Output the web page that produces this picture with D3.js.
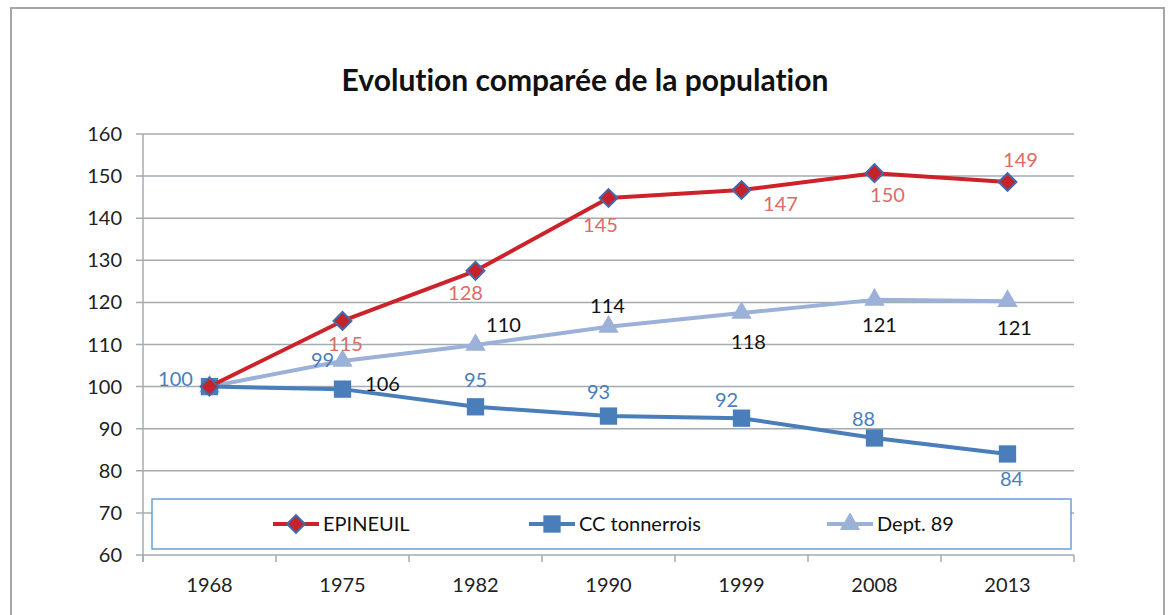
<!DOCTYPE html>
<html>
<head>
<meta charset="utf-8">
<script src="https://cdn.jsdelivr.net/npm/d3@7"></script>
<style>
  body { margin: 0; background: #fff; }
  svg { display: block; font-family: Lato, "Open Sans", sans-serif; font-variant-ligatures: none; }
</style>
</head>
<body>
<svg width="1171" height="615"></svg>
<script>
const years = ["1968", "1975", "1982", "1990", "1999", "2008", "2013"];
const epineuil = [100, 115.6, 127.5, 144.8, 146.7, 150.7, 148.6];
const ccTonnerrois = [100, 99.4, 95.2, 93, 92.5, 87.8, 84];
const dept89 = [100, 106.1, 109.9, 114.2, 117.5, 120.6, 120.3];
// data labels as printed on the chart (some sit oddly in the original)
const epineuilLabels = [null, "115", "128", "145", "147", "150", "149"];
const ccLabels = ["100", "99", "95", "93", "92", "88", "84"];
const deptLabels = [null, "106", "110", "114", "118", "121", "121"];
const yTicks = [60, 70, 80, 90, 100, 110, 120, 130, 140, 150, 160];

// label placement (pixels, relative to the point)
const epiOffsets = [[0, 0], [3, 23], [-10, 22], [-8, 27], [39, 14], [13, 22], [13, -22]];
const ccOffsets = [[-34, -8], [-20, -29], [0, -27], [-10, -24], [-15, -18], [-11, -19], [4, 25]];
const deptOffsets = [[0, 0], [40, 23], [28, -20], [-1, -21], [7, 29], [5, 25], [7, 27]];

const svg = d3.select("svg");

// outer frame
svg.append("rect")
  .attr("x", 11).attr("y", 8)
  .attr("width", 1153).attr("height", 620)
  .attr("fill", "#fff")
  .attr("stroke", "#a6a6a6")
  .attr("stroke-width", 2);

svg.append("text")
  .attr("x", 585).attr("y", 91)
  .attr("text-anchor", "middle")
  .attr("font-size", 30)
  .attr("font-weight", "bold")
  .attr("fill", "#111")
  .text("Evolution comparée de la population");

const x = d3.scaleBand().domain(years).range([143, 1074]).padding(0);
const y = d3.scaleLinear().domain([60, 160]).range([555, 134]);
const cx = d => x(d) + x.bandwidth() / 2;

// gridlines
svg.append("g")
  .selectAll("line")
  .data(yTicks)
  .join("line")
  .attr("x1", 136).attr("x2", 1074)
  .attr("y1", d => y(d)).attr("y2", d => y(d))
  .attr("stroke", "#a3abb2")
  .attr("stroke-width", 1.5);

// y axis line
svg.append("line")
  .attr("x1", 143).attr("x2", 143)
  .attr("y1", y(160)).attr("y2", 562)
  .attr("stroke", "#a3abb2").attr("stroke-width", 1.5);

// x tick marks at category boundaries
svg.append("g")
  .selectAll("line")
  .data(years.concat(["end"]))
  .join("line")
  .attr("x1", (d, i) => i < years.length ? x(d) : x.range()[1])
  .attr("x2", (d, i) => i < years.length ? x(d) : x.range()[1])
  .attr("y1", y(60)).attr("y2", 562)
  .attr("stroke", "#a3abb2").attr("stroke-width", 1.5);

svg.append("g")
  .selectAll("text")
  .data(yTicks)
  .join("text")
  .attr("x", 122)
  .attr("y", d => y(d))
  .attr("dy", "0.35em")
  .attr("text-anchor", "end")
  .attr("font-size", 20)
  .attr("fill", "#222")
  .text(d => d);

svg.append("g")
  .selectAll("text")
  .data(years)
  .join("text")
  .attr("x", d => cx(d))
  .attr("y", 585)
  .attr("dy", "0.35em")
  .attr("text-anchor", "middle")
  .attr("font-size", 20)
  .attr("fill", "#222")
  .text(d => d);

const line = d3.line().x((d, i) => cx(years[i])).y(d => y(d));

const series = [
  { name: "Dept. 89", values: dept89, color: "#9bb1d7", symbol: d3.symbolTriangle, size: 180, rotate: 0, fill: "#9bb1d7", stroke: "none", labels: deptLabels, offsets: deptOffsets, labelColor: "#111" },
  { name: "CC tonnerrois", values: ccTonnerrois, color: "#4a7ebb", symbol: d3.symbolSquare, size: 300, rotate: 0, fill: "#4a7ebb", stroke: "none", labels: ccLabels, offsets: ccOffsets, labelColor: "#4a7ebb" },
  { name: "EPINEUIL", values: epineuil, color: "#cc2229", symbol: d3.symbolSquare, size: 160, rotate: 45, fill: "#c4232b", stroke: "#3f6cb0", labels: epineuilLabels, offsets: epiOffsets, labelColor: "#dd6b66" }
];

series.forEach(s => {
  svg.append("path")
    .datum(s.values)
    .attr("fill", "none")
    .attr("stroke", s.color)
    .attr("stroke-width", 4)
    .attr("stroke-linejoin", "round")
    .attr("d", line);

  svg.append("g")
    .selectAll("path")
    .data(s.values)
    .join("path")
    .attr("transform", (d, i) => `translate(${cx(years[i])},${y(d)}) rotate(${s.rotate})`)
    .attr("d", d3.symbol().type(s.symbol).size(s.size))
    .attr("fill", s.fill)
    .attr("stroke", s.stroke)
    .attr("stroke-width", 2);
});

series.forEach(s => {
  const pts = s.values.map((v, i) => ({ v, i })).filter(p => s.labels[p.i] !== null);
  svg.append("g")
    .selectAll("text")
    .data(pts)
    .join("text")
    .attr("x", p => cx(years[p.i]) + s.offsets[p.i][0])
    .attr("y", p => y(p.v) + s.offsets[p.i][1])
    .attr("dy", "0.35em")
    .attr("text-anchor", "middle")
    .attr("font-size", 20)
    .attr("fill", s.labelColor)
    .text(p => s.labels[p.i]);
});

// legend
const legend = svg.append("g");
legend.append("rect")
  .attr("x", 152).attr("y", 499)
  .attr("width", 919).attr("height", 50)
  .attr("fill", "#fff")
  .attr("stroke", "#6a9fd6")
  .attr("stroke-width", 1.5);

const legendX = [273, 529, 827];
[series[2], series[1], series[0]].forEach((s, i) => {
  const g = legend.append("g").attr("transform", `translate(${legendX[i]},524)`);
  g.append("line")
    .attr("x1", 0).attr("x2", 46)
    .attr("stroke", s.color).attr("stroke-width", 4);
  g.append("path")
    .attr("transform", `translate(23,0) rotate(${s.rotate})`)
    .attr("d", d3.symbol().type(s.symbol).size(s.size))
    .attr("fill", s.fill)
    .attr("stroke", s.stroke)
    .attr("stroke-width", 2);
  g.append("text")
    .attr("x", 50)
    .attr("dy", "0.35em")
    .attr("font-size", 20)
    .attr("fill", "#111")
    .text(s.name);
});
</script>
</body>
</html>
